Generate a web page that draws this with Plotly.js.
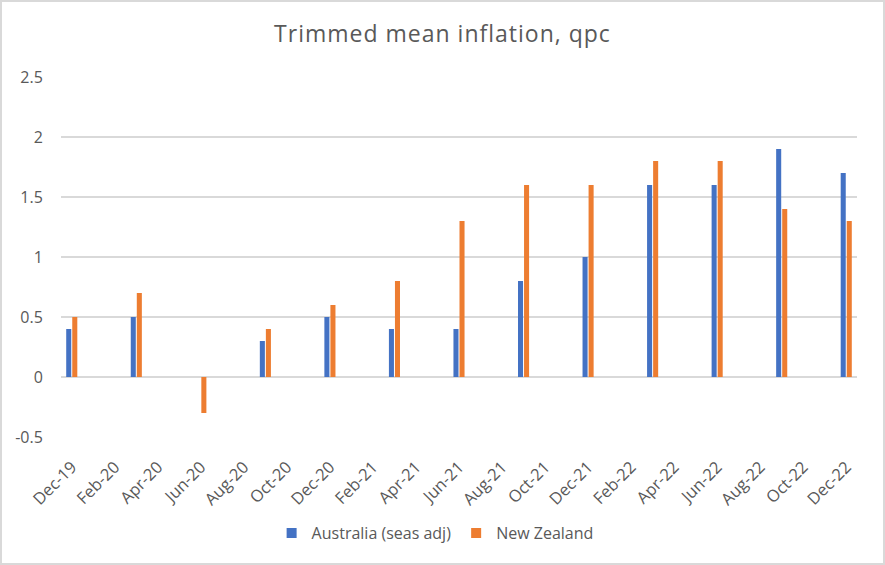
<!DOCTYPE html>
<html>
<head>
<meta charset="utf-8">
<script src="https://cdn.plot.ly/plotly-3.0.1.min.js"></script>
<style>
  html, body { margin: 0; padding: 0; background: #ffffff; }
  #wrap { position: relative; width: 885px; height: 565px; }
  #chart { position: absolute; left: 0; top: 0; width: 885px; height: 565px; }
  #frame { position: absolute; left: 0; top: 0; width: 885px; height: 565px; box-sizing: border-box; border: 2px solid #d9d9d9; pointer-events: none; }
  #chart .gtitle { letter-spacing: 1px; }
</style>
</head>
<body>
<div id="wrap">
  <div id="chart"></div>
  <div id="frame"></div>
</div>
<script>
// Month categories of the date axis (monthly base unit)
const months = ["Dec-19","Jan-20","Feb-20","Mar-20","Apr-20","May-20","Jun-20","Jul-20","Aug-20","Sep-20","Oct-20","Nov-20",
                "Dec-20","Jan-21","Feb-21","Mar-21","Apr-21","May-21","Jun-21","Jul-21","Aug-21","Sep-21","Oct-21","Nov-21",
                "Dec-21","Jan-22","Feb-22","Mar-22","Apr-22","May-22","Jun-22","Jul-22","Aug-22","Sep-22","Oct-22","Nov-22","Dec-22"];
// Shown tick labels (every second month)
const xTickLabels = ["Dec-19","Feb-20","Apr-20","Jun-20","Aug-20","Oct-20","Dec-20","Feb-21","Apr-21","Jun-21",
                     "Aug-21","Oct-21","Dec-21","Feb-22","Apr-22","Jun-22","Aug-22","Oct-22","Dec-22"];
// Quarterly observations
const quarters = ["Dec-19","Mar-20","Jun-20","Sep-20","Dec-20","Mar-21","Jun-21","Sep-21","Dec-21","Mar-22","Jun-22","Sep-22","Dec-22"];
const australia = [0.4, 0.5, null, 0.3, 0.5, 0.4, 0.4, 0.8, 1.0, 1.6, 1.6, 1.9, 1.7];
const newZealand = [0.5, 0.7, -0.3, 0.4, 0.6, 0.8, 1.3, 1.6, 1.6, 1.8, 1.8, 1.4, 1.3];
// Y ticks
const yTickVals = [-0.5, 0, 0.5, 1, 1.5, 2, 2.5];
const yTickText = ["-0.5", "0", "0.5", "1", "1.5", "2", "2.5"];

const seriesNames = ["Australia (seas adj)", "New Zealand"];
const seriesColors = ["#4472C4", "#ED7D31"];

const xPos = quarters.map(q => months.indexOf(q));
const tickPos = xTickLabels.map(t => months.indexOf(t));

const textColor = "#595959";
const fontFam = "'Open Sans', 'Noto Sans', sans-serif";

const traces = [
  {
    type: "bar", name: seriesNames[0], x: xPos, y: australia,
    width: 0.235, offset: -0.258, showlegend: false,
    marker: { color: seriesColors[0] }, hoverinfo: "skip"
  },
  {
    type: "bar", name: seriesNames[1], x: xPos, y: newZealand,
    width: 0.235, offset: 0.023, showlegend: false,
    marker: { color: seriesColors[1] }, hoverinfo: "skip"
  },
  // legend entries (square keys like the original)
  {
    type: "scatter", mode: "markers", name: seriesNames[0], x: [null], y: [null],
    marker: { symbol: "square", size: 10, color: seriesColors[0] }, hoverinfo: "skip"
  },
  {
    type: "scatter", mode: "markers", name: seriesNames[1], x: [null], y: [null],
    marker: { symbol: "square", size: 10, color: seriesColors[1] }, hoverinfo: "skip"
  }
];

const layout = {
  width: 885, height: 565,
  margin: { l: 61, r: 28, t: 77, b: 128 },
  paper_bgcolor: "#ffffff", plot_bgcolor: "#ffffff",
  font: { family: fontFam, color: textColor, size: 16 },
  barmode: "overlay",
  showlegend: true,
  title: {
    text: "Trimmed mean inflation, qpc",
    font: { family: fontFam, size: 23, color: textColor },
    x: 0.5, xanchor: "center", xref: "container",
    y: 1 - 34 / 565, yanchor: "middle", yref: "container"
  },
  xaxis: {
    type: "linear",
    range: [-0.5, months.length - 0.5],
    tickmode: "array", tickvals: tickPos, ticktext: xTickLabels,
    tickangle: -45,
    tickfont: { family: fontFam, size: 16.5, color: textColor },
    ticks: "outside", ticklen: 13, tickcolor: "rgba(0,0,0,0)",
    showgrid: false, zeroline: false, showline: false, fixedrange: true
  },
  yaxis: {
    range: [-0.5, 2.5],
    tickmode: "array", tickvals: yTickVals, ticktext: yTickText,
    tickfont: { family: fontFam, size: 16, color: textColor },
    ticks: "outside", ticklen: 14, tickcolor: "rgba(0,0,0,0)",
    showgrid: true, gridcolor: "#d9d9d9", gridwidth: 1.2,
    zeroline: false, showline: false, fixedrange: true
  },
  legend: {
    orientation: "h",
    x: 0.47, xanchor: "center",
    y: -0.267, yanchor: "middle",
    font: { family: fontFam, size: 16, color: textColor },
    itemwidth: 30
  }
};

Plotly.newPlot("chart", traces, layout, { displayModeBar: false, staticPlot: true });
</script>
</body>
</html>
